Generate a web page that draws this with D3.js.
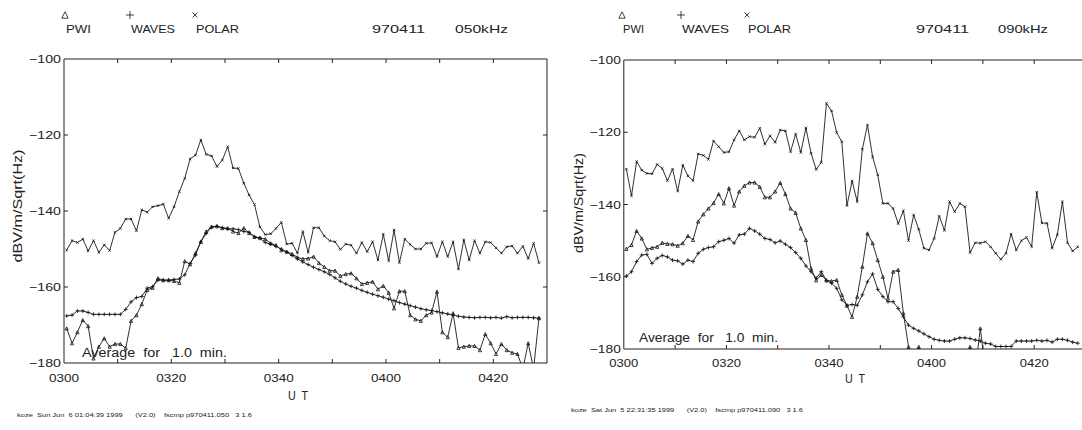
<!DOCTYPE html>
<html>
<head>
<meta charset="utf-8">
<script src="https://cdn.jsdelivr.net/npm/d3@7"></script>
<style>
  body { margin: 0; background: #fff; }
  svg { display: block; }
  text { font-family: "Liberation Sans", Arial, sans-serif; fill: #222; white-space: pre; }
  .series { fill: none; stroke: #1a1a1a; stroke-width: 0.9; }
  .frame { fill: none; stroke: #222; stroke-width: 1; }
  .mark { fill: none; stroke: #111; stroke-width: 0.8; }
</style>
</head>
<body>
<svg id="chart" width="1082" height="430"></svg>
<script>
// minutes after 0300 UT, one point per 1-min average
const minutes = d3.range(89).map(i => i + 0.5);

const xTicks = [0, 20, 40, 60, 80];
const xTickLabels = ["0300", "0320", "0340", "0400", "0420"];
const yTicks = [-100, -120, -140, -160, -180];

// 050 kHz panel
const polar050 = [-150.3,-147.8,-148.3,-147.4,-150.5,-147.8,-150.9,-148.9,-150.4,-145.6,
  -144.6,-142.1,-142.1,-145.2,-139.7,-140.3,-138.9,-138.6,-138.2,-141.9,
  -138.9,-134.9,-131.4,-126.3,-125.3,-121.3,-125.1,-125.5,-128.3,-126.6,
  -123.1,-128.7,-128.8,-132.7,-135.8,-138.3,-144.2,-146.2,-146.0,-144.6,
  -143.0,-148.7,-148.5,-151.1,-145.4,-150.9,-144.4,-144.4,-146.6,-147.8,
  -148.1,-150.1,-148.7,-149.0,-151.1,-148.3,-150.7,-148.1,-152.9,-146.1,
  -153.1,-145.0,-153.6,-147.4,-148.8,-150.0,-150.0,-148.5,-148.4,-152.0,
  -148.1,-152.0,-148.1,-155.3,-147.6,-152.9,-147.8,-151.1,-148.1,-148.3,
  -149.7,-151.1,-149.4,-149.2,-151.1,-149.3,-152.5,-148.5,-153.6];

const waves050 = [-167.6,-167.4,-166.3,-166.3,-166.7,-167.2,-167.2,-167.2,-167.2,-167.2,
  -167.2,-165.9,-163.9,-162.8,-162.5,-160.3,-159.9,-158.2,-158.2,-158.2,
  -158.0,-157.9,-156.8,-153.8,-151.6,-148.1,-145.9,-144.3,-144.0,-144.4,
  -144.7,-144.7,-144.9,-145.4,-145.6,-146.8,-147.2,-148.3,-148.7,-149.3,
  -150.0,-150.8,-151.7,-152.6,-153.4,-154.1,-154.8,-155.4,-156.0,-156.7,
  -157.6,-158.5,-159.2,-159.8,-160.3,-160.9,-161.4,-161.9,-162.3,-162.7,
  -163.2,-163.6,-164.1,-164.5,-164.9,-165.3,-165.7,-166.0,-166.2,-166.5,
  -166.8,-167.1,-167.4,-167.7,-167.9,-168.0,-168.1,-168.0,-168.0,-168.1,
  -168.0,-168.2,-167.8,-168.1,-168.0,-168.0,-168.0,-168.1,-168.2];

const pwi050 = [-170.9,-174.8,-171.9,-168.7,-170.3,-178.8,-175.7,-173.5,-175.7,-175.0,
  -175.0,-176.1,-168.9,-167.4,-164.5,-160.8,-160.2,-157.7,-158.2,-158.2,
  -158.4,-158.9,-153.2,-154.0,-151.1,-148.1,-145.4,-144.1,-144.0,-144.5,
  -144.5,-145.4,-145.8,-144.5,-145.8,-146.8,-147.0,-147.4,-148.5,-149.0,
  -150.3,-150.7,-151.3,-152.2,-152.6,-152.5,-152.0,-153.7,-154.7,-155.7,
  -155.7,-157.1,-156.6,-156.4,-157.7,-159.2,-158.9,-158.6,-160.6,-159.7,
  -161.5,-165.6,-161.1,-161.1,-167.4,-168.5,-168.9,-167.4,-166.7,-161.2,
  -171.9,-173.2,-166.9,-176.0,-175.7,-175.5,-175.5,-176.6,-172.4,-174.8,
  -177.6,-175.0,-176.6,-177.3,-177.6,-181.5,-174.8,-181.5,-168.2];

// 090 kHz panel
const polar090 = [-130.2,-137.6,-128.1,-130.5,-131.4,-131.5,-128.9,-130.0,-133.4,-130.2,
  -136.3,-129.1,-132.1,-133.4,-126.0,-126.4,-127.5,-122.4,-124.0,-125.6,
  -125.4,-122.1,-119.6,-122.1,-121.2,-121.4,-118.9,-123.3,-121.0,-122.8,
  -119.4,-119.6,-125.4,-120.5,-125.6,-118.8,-125.8,-130.3,-128.3,-112.0,
  -114.1,-120.1,-122.6,-140.3,-133.5,-139.2,-124.7,-118.0,-126.8,-131.8,
  -139.7,-139.7,-141.1,-145.3,-141.7,-150.0,-142.9,-146.9,-152.1,-152.6,
  -149.4,-143.2,-147.2,-139.2,-142.0,-139.7,-140.6,-153.3,-150.6,-150.7,
  -150.3,-151.7,-153.5,-155.2,-153.5,-148.2,-152.6,-150.0,-149.1,-151.7,
  -136.6,-145.1,-145.2,-152.1,-148.4,-139.2,-150.6,-152.9,-151.7];

const waves090 = [-159.8,-158.6,-155.8,-154.0,-153.8,-156.3,-154.9,-154.1,-154.5,-155.4,
  -155.6,-156.5,-155.4,-155.8,-153.5,-152.4,-151.9,-151.7,-150.3,-149.9,
  -149.4,-150.7,-148.4,-148.2,-146.6,-147.3,-148.2,-149.4,-149.7,-150.6,
  -150.1,-151.0,-151.9,-153.3,-154.9,-157.0,-158.6,-160.4,-158.6,-161.0,
  -161.8,-163.2,-166.4,-167.9,-167.7,-167.9,-165.0,-161.4,-159.2,-163.5,
  -165.5,-166.9,-166.9,-168.8,-171.1,-173.4,-174.3,-175.0,-175.8,-176.6,
  -177.3,-177.6,-177.8,-177.8,-177.3,-176.9,-176.9,-177.1,-177.5,-177.8,
  -178.4,-178.6,-179.3,-179.3,-179.3,-179.3,-177.8,-177.8,-177.8,-177.8,
  -177.6,-177.8,-177.6,-178.1,-177.3,-177.3,-177.6,-178.1,-178.4];

const pwi090 = [-152.3,-151.2,-147.3,-149.4,-152.4,-152.0,-151.7,-150.6,-150.9,-151.0,
  -151.4,-150.7,-148.7,-149.8,-144.7,-142.7,-141.1,-139.6,-137.1,-139.7,
  -135.5,-140.3,-136.4,-134.8,-133.9,-133.9,-135.1,-138.0,-138.0,-136.4,
  -134.0,-137.1,-141.1,-142.3,-146.6,-149.8,-157.7,-161.0,-159.5,-161.0,
  -161.2,-160.9,-165.0,-168.0,-171.1,-165.5,-157.2,-148.0,-150.7,-155.4,
  -160.0,-166.0,-158.6,-158.1,-170.1,-179.4,-186.0,-179.4,-186.0,-186.0,
  -186.0,-186.0,-186.0,-186.0,-186.0,-186.0,-186.0,-179.4,-186.0,-174.3,
  -186.0,-186.0,-186.0,-186.0,-186.0,-186.0,-186.0,-186.0,-186.0,-186.0,
  -186.0,-186.0,-186.0,-186.0,-186.0,-186.0,-186.0,-186.0,-186.0];

class Panel {
    constructor(svg, cfg)
    {
        this.svg = svg;
        this.cfg = cfg;
        this.x = d3.scaleLinear().domain([0, 90]).range([cfg.left, cfg.left + cfg.width]);
        this.y = d3.scaleLinear().domain([-180, -100]).range([cfg.top + cfg.height, cfg.top]);
    }

    //틀 + 눈금
    drawFrame()
    {
        const c = this.cfg, g = this.svg.append("g");
        const x0 = c.left, x1 = c.left + c.width, y0 = c.top, y1 = c.top + c.height;

        g.append("path").attr("class", "frame")
            .attr("d", `M${x1},${y0}H${x0}V${y1}H${x1}V${y0}`);

        // 10분 간격 눈금 (위, 아래 안쪽)
        const minor = d3.range(10, 90, 10);
        g.selectAll(".xt").data(minor).join("path").attr("class", "frame")
            .attr("d", d => `M${this.x(d)},${y1}v-4M${this.x(d)},${y0}v4`);
        g.selectAll(".yt").data(yTicks.slice(1, -1)).join("path").attr("class", "frame")
            .attr("d", d => `M${x0},${this.y(d)}h4` + (x1 < 1082 ? `M${x1},${this.y(d)}h-4` : ""));

        g.selectAll(".xl").data(xTicks).join("text")
            .attr("x", (d) => this.x(d)).attr("y", c.xLabelY)
            .attr("text-anchor", "middle").style("font-size", "11px")
            .attr("textLength", c.xLabelW).attr("lengthAdjust", "spacingAndGlyphs")
            .text((d, i) => xTickLabels[i]);

        g.selectAll(".yl").data(yTicks).join("text")
            .attr("x", x0 - 3).attr("y", (d) => this.y(d) + 4)
            .attr("text-anchor", "end").style("font-size", "11px")
            .attr("textLength", c.yLabelW).attr("lengthAdjust", "spacingAndGlyphs")
            .text(d => "\u2212" + Math.abs(d));
    }

    drawSeries()
    {
        const c = this.cfg;
        const clipId = "clip" + c.id;
        this.svg.append("clipPath").attr("id", clipId)
            .append("rect").attr("x", c.left).attr("y", c.top)
            .attr("width", c.width).attr("height", c.height);

        const line = d3.line().x((d, i) => this.x(minutes[i])).y(d => this.y(d));
        const g = this.svg.append("g").attr("clip-path", `url(#${clipId})`);

        c.series.forEach(s => {
            g.append("path").attr("class", "series").attr("d", line(s.values));
            g.selectAll(null).data(s.values).join("path").attr("class", "mark")
                .attr("transform", (d, i) => `translate(${this.x(minutes[i])},${this.y(d)})`)
                .attr("d", markPath(s.mark));
        });
    }

    drawText()
    {
        const c = this.cfg, svg = this.svg;
        const put = (t, x, y, size, len, anchor) => svg.append("text")
            .attr("x", x).attr("y", y).attr("text-anchor", anchor || "start")
            .attr("xml:space", "preserve")
            .style("font-size", size + "px")
            .attr("textLength", len).attr("lengthAdjust", "spacingAndGlyphs").text(t);

        // 범례 & 날짜
        c.header.forEach(h => {
            put(h.text, h.x, 33, 11.5, h.w);
            if (h.mark) svg.append("path").attr("class", "mark")
                .attr("transform", `translate(${h.x - 1},${15})`)
                .attr("d", markPath(h.mark, 2));
        });

        put("U  T", c.utX, c.utY, 13, 20, "middle");
        put("Average  for   1.0  min.", c.avgX, c.avgY, 12, c.avgW);
        svg.append("text")
            .attr("transform", `translate(${c.ylabX},${c.ylabY}) rotate(-90)`)
            .attr("text-anchor", "middle").style("font-size", "12.5px")
            .attr("textLength", c.ylabW).attr("lengthAdjust", "spacingAndGlyphs")
            .text("dBV/m/Sqrt(Hz)");
        put(c.footer, c.footX, c.footY, 6, c.footW);
    }
}

// 마커 모양
function markPath(kind, k)
{
    k = k || 1;
    if (kind === "tri") { const s = 1.6 * k; return `M0,${-s}L${s},${s}L${-s},${s}Z`; }
    if (kind === "plus") { const s = 2 * k; return `M${-s},0H${s}M0,${-s}V${s}`; }
    const s = 1.2 * k; return `M${-s},${-s}L${s},${s}M${-s},${s}L${s},${-s}`;
}

const svg = d3.select("#chart");

const panels = [
    {
        id: "a", left: 64, top: 59, width: 483, height: 304,
        xLabelY: 382, xLabelW: 30, yLabelW: 32,
        utX: 298, utY: 400, avgX: 82, avgY: 357, avgW: 145,
        ylabX: 22, ylabY: 206, ylabW: 113,
        footX: 17, footY: 417, footW: 235,
        footer: "koze  Sun Jun  6 01:04:39 1999      (V2.0)    fscmp p970411.050   3 1.6",
        header: [
            { text: "PWI", x: 66, w: 25, mark: "tri" },
            { text: "WAVES", x: 131, w: 44, mark: "plus" },
            { text: "POLAR", x: 196, w: 43, mark: "x" },
            { text: "970411", x: 372, w: 53 },
            { text: "050kHz", x: 455, w: 53 }
        ],
        series: [
            { values: polar050, mark: "x" },
            { values: waves050, mark: "plus" },
            { values: pwi050, mark: "tri" }
        ]
    },
    {
        id: "b", left: 623.8, top: 60, width: 461.7, height: 289,
        xLabelY: 367, xLabelW: 29, yLabelW: 31,
        utX: 855, utY: 383, avgX: 639, avgY: 342, avgW: 139,
        ylabX: 583, ylabY: 203, ylabW: 100,
        footX: 571, footY: 411.5, footW: 232,
        footer: "koze  Sat Jun  5 22:31:35 1999      (V2.0)    fscmp p970411.090   3 1.6",
        header: [
            { text: "PWI", x: 623, w: 21, mark: "tri" },
            { text: "WAVES", x: 682, w: 47, mark: "plus" },
            { text: "POLAR", x: 748, w: 43, mark: "x" },
            { text: "970411", x: 916, w: 53 },
            { text: "090kHz", x: 998, w: 50 }
        ],
        series: [
            { values: polar090, mark: "x" },
            { values: waves090, mark: "plus" },
            { values: pwi090, mark: "tri" }
        ]
    }
];

panels.forEach(cfg => {
    const p = new Panel(svg, cfg);
    p.drawFrame();
    p.drawSeries();
    p.drawText();
});
</script>
</body>
</html>
